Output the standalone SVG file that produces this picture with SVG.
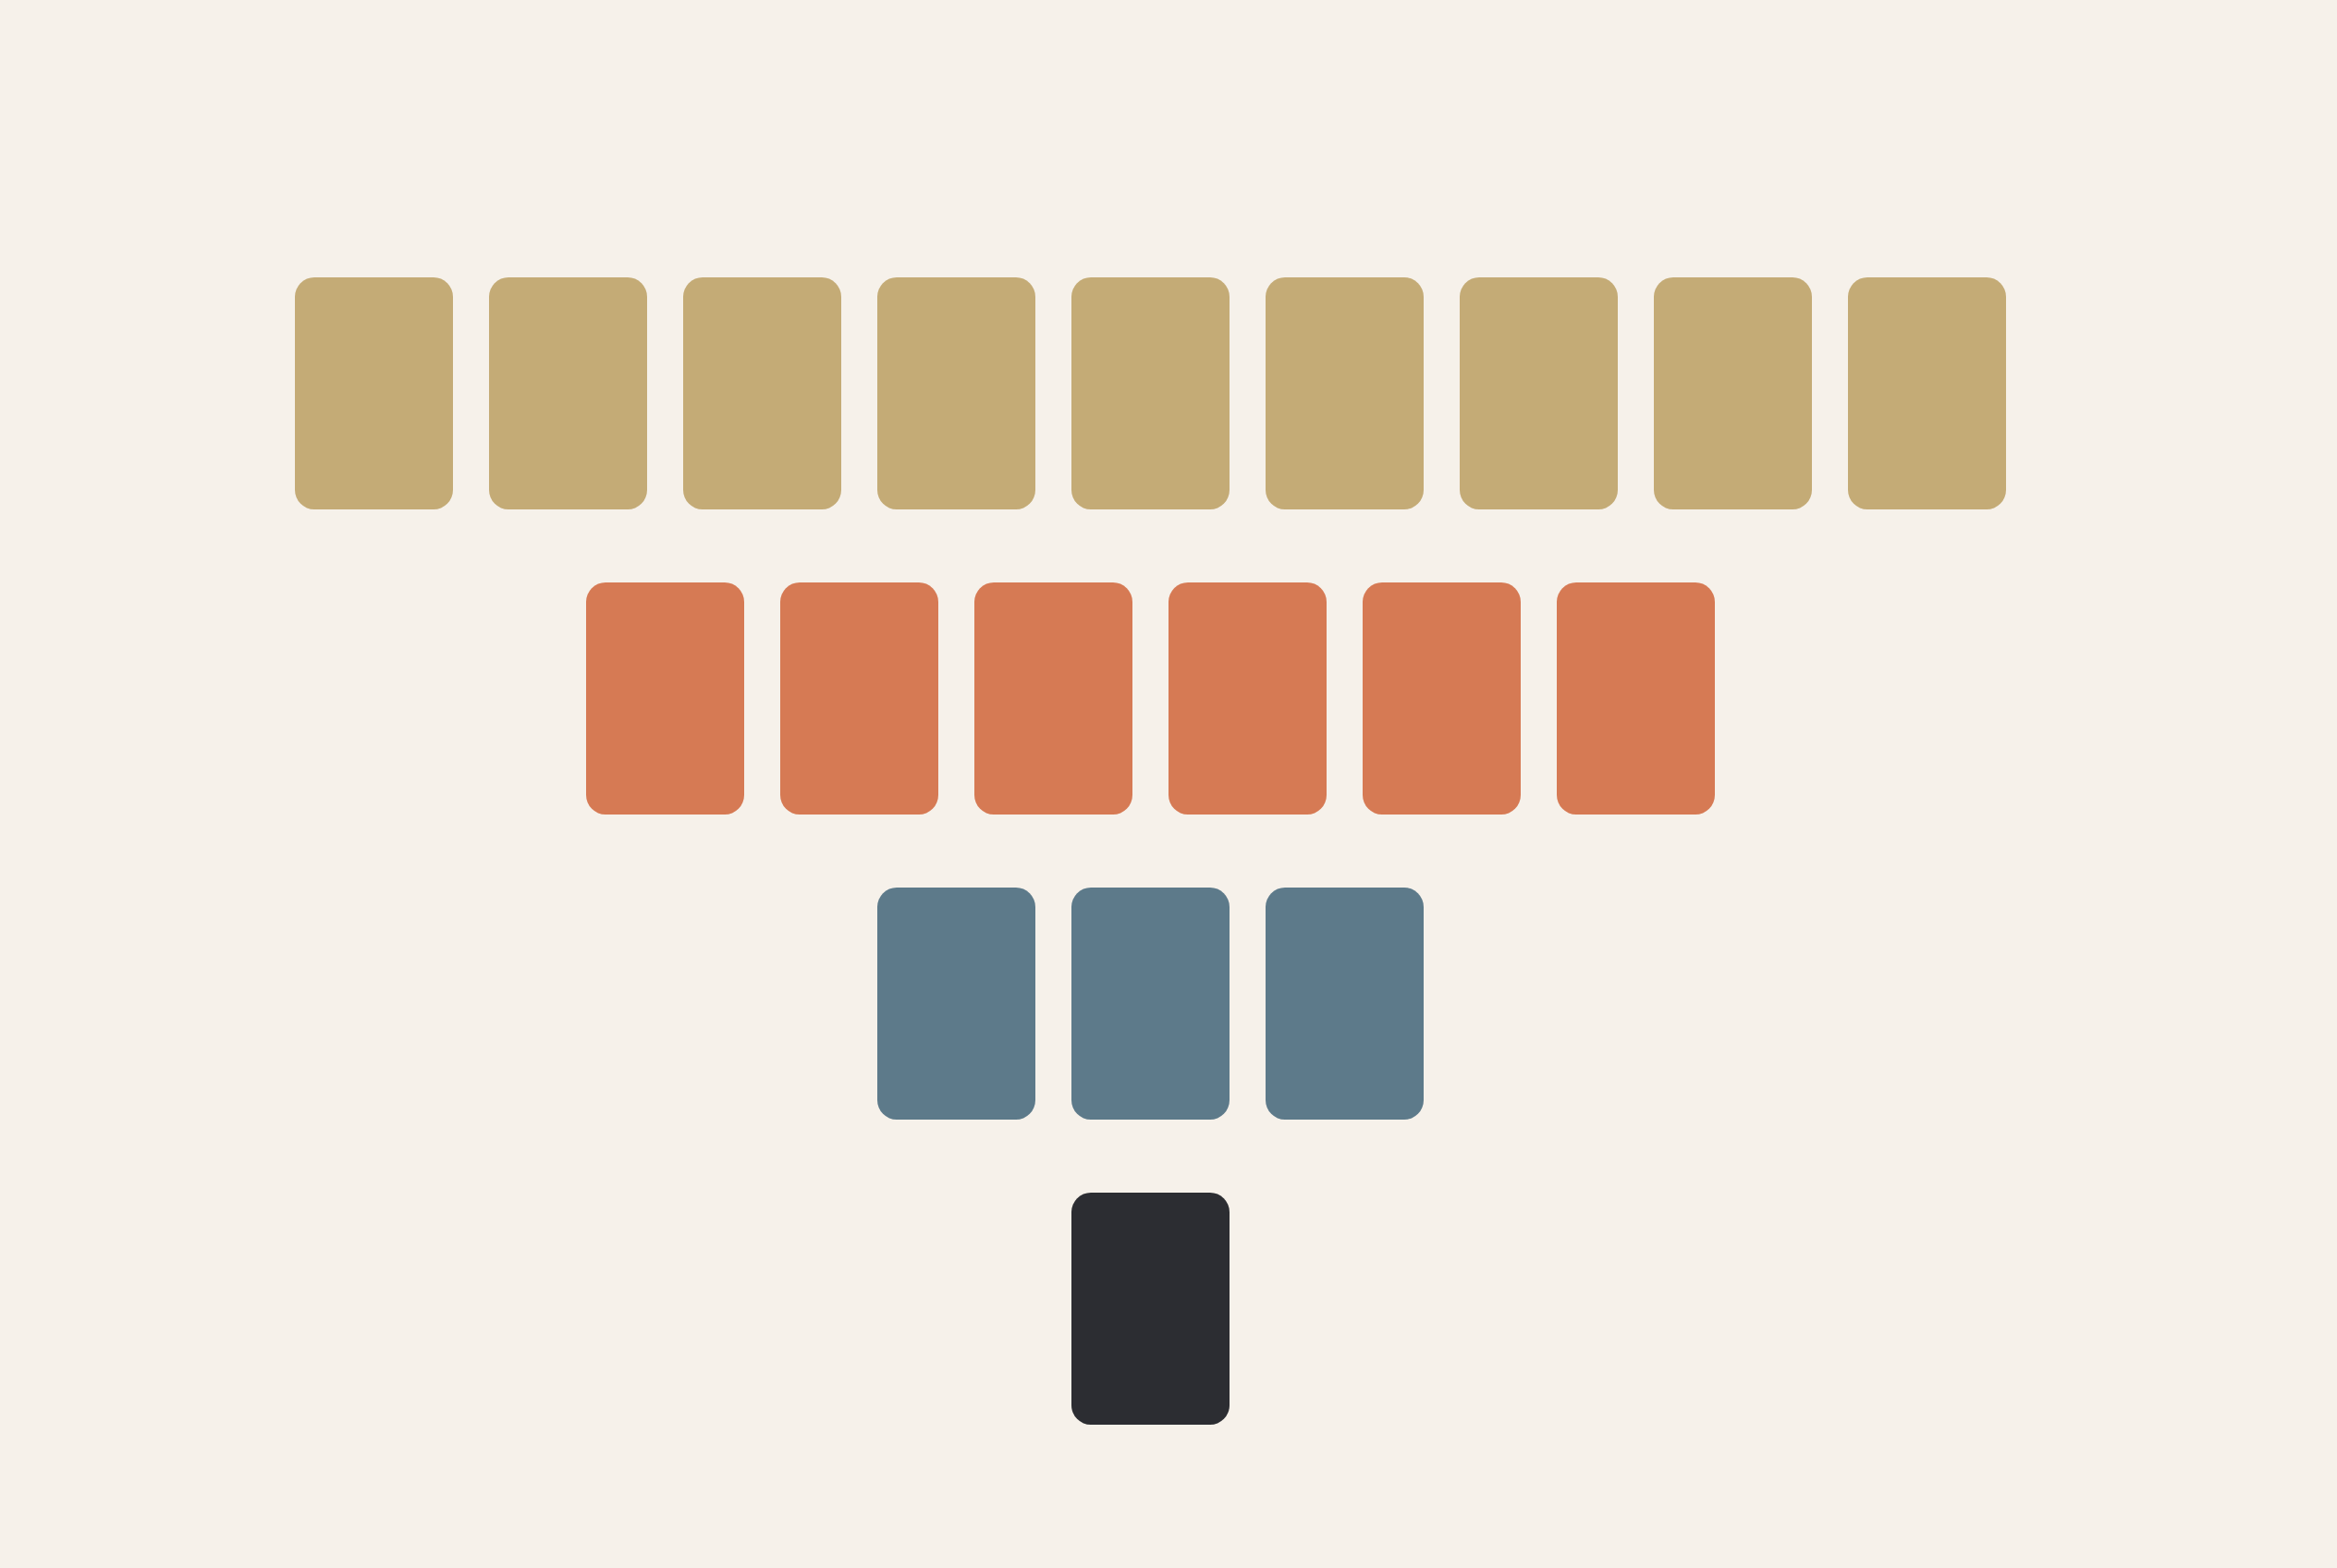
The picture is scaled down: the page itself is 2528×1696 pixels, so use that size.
<svg xmlns="http://www.w3.org/2000/svg" width="2528" height="1696" viewBox="0 0 2528 1696">
<style>
.t{fill:#C4AB76}
.o{fill:#D67A54}
.b{fill:#5D7A8A}
.d{fill:#2C2D32}
</style>
<rect width="2528" height="1696" fill="#F6F1EA"/>
<g id="row1">
<g id="t1"><rect class="t" x="319" y="300" width="171" height="251" rx="21"/></g>
<g id="t2"><rect class="t" x="529" y="300" width="171" height="251" rx="21"/></g>
<g id="t3"><rect class="t" x="739" y="300" width="171" height="251" rx="21"/></g>
<g id="t4"><rect class="t" x="949" y="300" width="171" height="251" rx="21"/></g>
<g id="t5"><rect class="t" x="1159" y="300" width="171" height="251" rx="21"/></g>
<g id="t6"><rect class="t" x="1369" y="300" width="171" height="251" rx="21"/></g>
<g id="t7"><rect class="t" x="1579" y="300" width="171" height="251" rx="21"/></g>
<g id="t8"><rect class="t" x="1789" y="300" width="171" height="251" rx="21"/></g>
<g id="t9"><rect class="t" x="1999" y="300" width="171" height="251" rx="21"/></g>
</g>
<g id="row2">
<g id="o1"><rect class="o" x="634" y="630" width="171" height="251" rx="21"/></g>
<g id="o2"><rect class="o" x="844" y="630" width="171" height="251" rx="21"/></g>
<g id="o3"><rect class="o" x="1054" y="630" width="171" height="251" rx="21"/></g>
<g id="o4"><rect class="o" x="1264" y="630" width="171" height="251" rx="21"/></g>
<g id="o5"><rect class="o" x="1474" y="630" width="171" height="251" rx="21"/></g>
<g id="o6"><rect class="o" x="1684" y="630" width="171" height="251" rx="21"/></g>
</g>
<g id="row3">
<g id="b1"><rect class="b" x="949" y="960" width="171" height="251" rx="21"/></g>
<g id="b2"><rect class="b" x="1159" y="960" width="171" height="251" rx="21"/></g>
<g id="b3"><rect class="b" x="1369" y="960" width="171" height="251" rx="21"/></g>
</g>
<g id="row4">
<g id="d1"><rect class="d" x="1159" y="1290" width="171" height="251" rx="21"/></g>
</g>
<g id="connectors"></g>
</svg>
